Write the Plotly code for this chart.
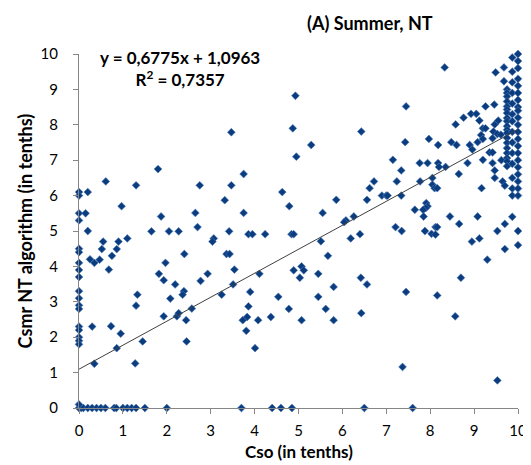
import plotly.graph_objects as go

# ---- data ----
# zero-row points (Csmr = 0)
cso_zero = [0, 0.05, 0.1, 0.2, 0.3, 0.4, 0.5, 0.6, 0.8, 0.85, 1.0, 1.1, 1.2, 1.3, 1.5, 2.0,
            3.7, 4.4, 4.6, 4.85, 6.5, 7.6]
csmr_zero = [0] * len(cso_zero)

# left column (Cso ~ 0)
cso_left = [0, 0, 0, 0, 0, 0, 0, 0, 0, 0, 0, 0, 0, 0, 0, 0, 0, 0, 0,
            0.2, 0.15, 0.2, 0.25, 0.35, 0.3, 0.35]
csmr_left = [6.1, 6.0, 5.5, 5.3, 4.5, 4.4, 4.1, 3.9, 3.7, 3.3, 3.1, 2.9, 2.8, 2.3, 2.2, 2.0, 1.9, 1.8, 0.1,
             6.1, 5.5, 5.0, 4.2, 4.1, 2.3, 1.25]

# body of the cloud
cso_body = [3.47, 1.8, 4.93, 4.87, 6.43, 5.29, 4.95,
            8.33, 9.49, 9.68, 9.68, 7.45, 9.26, 9.46, 8.76, 8.93, 9.05, 9.12, 8.58, 9.47, 9.55,
            9.20, 9.26, 9.44, 9.16, 9.53, 9.61, 7.43, 7.97, 8.18, 8.48, 8.60, 8.90, 9.08, 9.20,
            9.42, 8.96, 7.15, 7.76, 7.94, 8.18, 8.35, 8.85, 9.20, 9.35, 9.42, 9.42, 9.62,
            8.20, 8.65, 9.47, 9.47, 9.65, 9.70, 9.17, 7.34, 6.72, 7.24, 6.62, 6.56, 6.90, 7.00,
            7.03, 7.34, 7.77, 8.05, 8.05, 8.10, 8.16, 7.91, 7.94, 7.90, 7.65, 7.84, 7.85, 8.45,
            9.08, 8.66, 7.21, 7.35, 7.88, 8.12, 8.16, 8.03, 8.12, 9.70, 9.53, 9.12, 8.95, 9.70,
            9.30, 8.70,
            3.75, 4.63, 4.79, 3.75, 5.86, 5.55, 6.26, 6.08, 6.04, 3.86, 3.95, 4.24, 4.84, 4.89,
            6.40, 6.19, 5.51, 5.67, 4.11, 4.89, 5.07, 5.12, 5.03, 5.45, 6.42, 6.56, 5.80,
            0.61, 1.30, 2.75, 3.47, 0.97, 1.87, 2.65, 3.32, 2.70, 1.65, 2.05, 2.27, 3.42, 1.10,
            0.55, 0.90, 3.07, 3.04, 0.52, 0.86, 0.75, 0.47, 2.40, 3.36, 3.43, 1.97, 0.68, 1.82,
            1.93, 2.19, 2.77, 2.93, 3.54, 3.51,
            1.33, 2.39, 2.36, 2.08, 1.30, 1.93, 2.23, 2.27, 2.57, 2.44, 3.25, 0.73, 0.95, 0.86,
            1.45, 2.45, 1.28,
            3.90, 4.54, 5.45, 3.86, 4.78, 5.62, 3.83, 3.73, 4.08, 4.37, 5.07, 5.80, 6.43, 3.81, 4.01,
            7.45, 8.16, 8.57, 7.37, 9.53]
csmr_body = [7.79, 6.75, 8.82, 7.90, 7.81, 7.43, 7.10,
             9.62, 9.48, 9.62, 9.23, 8.52, 8.52, 8.57, 8.20, 8.31, 8.31, 8.12, 8.01, 8.01, 8.12,
             7.90, 7.90, 7.81, 7.71, 7.74, 7.72, 7.51, 7.60, 7.43, 7.51, 7.43, 7.43, 7.51, 7.60,
             7.62, 7.30, 7.01, 6.92, 6.92, 6.92, 6.81, 6.92, 7.01, 7.22, 7.22, 6.92, 7.00,
             6.81, 6.61, 6.71, 6.50, 6.40, 6.28, 6.21, 6.71, 6.40, 6.40, 6.21, 5.88, 6.00, 6.00,
             6.00, 6.00, 6.40, 6.50, 6.31, 6.21, 6.21, 5.79, 5.70, 5.65, 5.60, 5.60, 5.41, 5.41,
             5.41, 5.20, 5.11, 5.00, 5.00, 5.11, 5.11, 4.92, 4.90, 5.20, 5.00, 4.79, 4.70, 4.49,
             4.19, 3.68,
             6.61, 6.10, 5.70, 5.51, 5.88, 5.51, 5.41, 5.30, 5.25, 4.91, 4.91, 4.91, 4.91, 4.91,
             4.91, 4.79, 4.71, 4.30, 3.79, 3.89, 4.00, 3.89, 3.68, 3.79, 3.68, 3.49, 3.42,
             6.40, 6.29, 6.29, 6.29, 5.70, 5.41, 5.51, 5.87, 5.11, 4.99, 4.99, 4.99, 4.99, 4.79,
             4.70, 4.70, 4.79, 4.70, 4.49, 4.49, 4.30, 4.19, 4.35, 4.35, 4.35, 4.10, 3.91, 3.79,
             3.61, 3.49, 3.59, 3.79, 3.91, 3.49,
             3.20, 3.30, 3.20, 3.09, 2.89, 2.59, 2.59, 2.68, 2.81, 2.48, 3.20, 2.31, 2.10, 1.69,
             1.88, 1.88, 1.26,
             3.28, 3.14, 3.14, 2.87, 2.80, 2.80, 2.57, 2.48, 2.48, 2.57, 2.48, 2.48, 2.68, 2.18, 1.69,
             3.28, 3.18, 2.59, 1.16, 0.78]

# dense columns at the right edge (Cso ~ 9.75 - 10)
cso_right = [9.75] * 19 + [9.87] * 15 + [10] * 23
csmr_right = [9.0, 8.9, 8.8, 8.66, 8.52, 8.43, 8.33, 8.19, 8.1, 7.96, 7.86, 7.77, 7.63, 7.49,
              7.34, 7.2, 7.06, 6.97, 6.83,
              9.9, 9.5, 9.2, 8.9, 8.6, 8.3, 8.1, 7.8, 7.5, 7.2, 6.9, 6.5, 6.2, 6.0, 5.4,
              10.0, 9.8, 9.6, 9.3, 9.1, 8.9, 8.7, 8.5, 8.4, 8.2, 8.0, 7.8, 7.6, 7.4, 7.2, 7.0,
              6.8, 6.6, 6.4, 6.2, 6.0, 5.0, 4.6]

# trend line (Excel linear fit)
slope = 0.6775
intercept = 1.0963
r_squared = 0.7357
ticks = list(range(0, 11))

title_text = "(A) Summer, NT"
x_title = "Cso (in tenths)"
y_title = "Csmr NT algorithm (in tenths)"

# ---- figure ----
cso = cso_zero + cso_left + cso_body + cso_right
csmr = csmr_zero + csmr_left + csmr_body + csmr_right

FONT = "Lato"
fig = go.Figure()
fig.add_trace(go.Scatter(
    x=cso, y=csmr, mode="markers",
    marker=dict(symbol="diamond", size=6, color="#0B3C7E",
                line=dict(width=0.6, color="#4A78B8")),
    cliponaxis=False, showlegend=False, hoverinfo="skip"))

line_x = [ticks[0], ticks[-1]]
line_y = [slope * v + intercept for v in line_x]
fig.add_trace(go.Scatter(x=line_x, y=line_y, mode="lines",
                         line=dict(color="#404040", width=1),
                         showlegend=False, hoverinfo="skip"))

axis_common = dict(range=[0, 10], tickvals=ticks, ticks="outside", ticklen=5,
                   tickcolor="#868686", showline=True, linecolor="#868686", linewidth=1,
                   showgrid=False, zeroline=False,
                   tickfont=dict(family=FONT, size=15, color="#000000"))
fig.update_xaxes(ticklabelstandoff=4, **axis_common)
fig.update_yaxes(ticklabelstandoff=12, **axis_common)

eq_text = "y = {}x + {}".format(str(slope).replace(".", ","), str(intercept).replace(".", ","))
r2_text = "R<sup>2</sup> = {}".format(str(r_squared).replace(".", ","))

fig.update_layout(
    width=531, height=465,
    margin=dict(l=71, r=16, t=46, b=65),
    plot_bgcolor="white", paper_bgcolor="white",
    annotations=[
        dict(text="<b>%s</b>" % title_text, xref="paper", yref="paper", x=0.662, y=1.088,
             showarrow=False, xanchor="center", yanchor="middle",
             font=dict(family=FONT, size=18, color="#000000")),
        dict(text="<b>%s</b><br><b>%s</b>" % (eq_text, r2_text), xref="paper", yref="paper",
             x=0.231, y=0.958, align="center",
             showarrow=False, xanchor="center", yanchor="middle",
             font=dict(family=FONT, size=17, color="#000000")),
        dict(text="<b>%s</b>" % x_title, xref="paper", yref="paper", x=0.5, y=-0.122,
             showarrow=False, xanchor="center", yanchor="middle",
             font=dict(family=FONT, size=17, color="#000000")),
        dict(text="<b>%s</b>" % y_title, xref="paper", yref="paper", x=-0.122, y=0.5,
             showarrow=False, xanchor="center", yanchor="middle", textangle=-90,
             font=dict(family=FONT, size=18, color="#000000")),
    ],
)

fig.write_html("out.html")
